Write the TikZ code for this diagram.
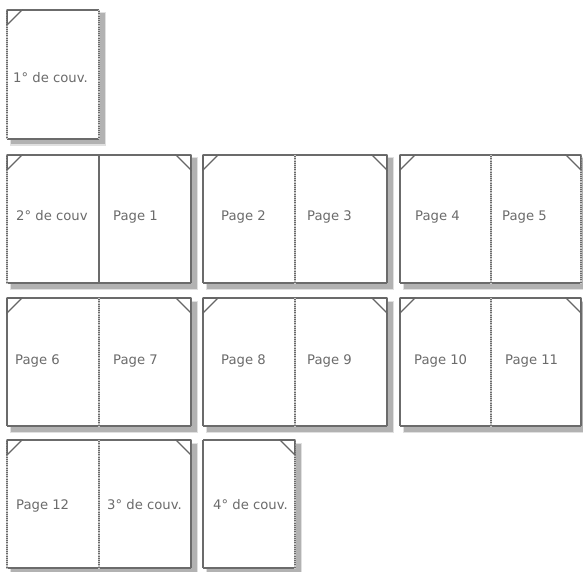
\documentclass[tikz,border=0pt]{standalone}
\usepackage{fontspec}
\newfontfamily\pgfont{DejaVu Sans}
\tikzset{
  edge/.style={draw=black!58, line width=1.2pt},
  dotedge/.style={draw=black!22, line width=1.2pt, densely dotted},
  corner/.style={draw=black!60, line width=1.1pt, fill=white, line join=miter},
  lbl/.style={anchor=base west, inner sep=0pt, font=\pgfont\fontsize{13.2}{14}\selectfont, text=black!58},
}
% sheet background with shadow: x, y, w, h
\newcommand\sheetbg[4]{%
  \fill[black!12] (#1+2.5,#2+2.5) rectangle (#1+#3+7,#2+#4+7);
  \fill[black!30] (#1+3.5,#2+3.5) rectangle (#1+#3+5.5,#2+#4+5.5);
  \fill[white] (#1,#2) rectangle (#1+#3,#2+#4);
}
% horizontal edges: x1, x2, y, h
\newcommand\hedges[4]{%
  \draw[edge] (#1,#3) -- (#2,#3);
  \draw[edge] (#1,#3+#4) -- (#2,#3+#4);
}
% vertical edge: style, x, y, h
\newcommand\vedge[4]{\draw[#1] (#2,#3) -- (#2,#3+#4);}
\newcommand\cornTL[2]{\draw[corner] (#1,#2) -- (#1+15,#2) -- (#1,#2+15) -- cycle;
  \draw[black!60, line width=1.8pt] (#1+0.5,#2+15) -- (#1+0.5,#2+0.5) -- (#1+15,#2+0.5);}
\newcommand\cornTR[2]{\draw[corner] (#1,#2) -- (#1-15,#2) -- (#1,#2+15) -- cycle;
  \draw[black!60, line width=1.8pt] (#1-0.5,#2+15) -- (#1-0.5,#2+0.5) -- (#1-15,#2+0.5);}
\begin{document}
\begin{tikzpicture}[x=1pt,y=-1pt]
\useasboundingbox (0,0) rectangle (583,572);
\fill[white] (0,0) rectangle (583,572);

% ---------- cover 1
\sheetbg{7}{10}{92}{129}
\hedges{7}{99}{10}{129}
\vedge{edge}{7}{10}{129}
\vedge{dotedge}{7}{10}{129}
\vedge{edge}{99}{10}{129}
\vedge{dotedge}{99}{10}{129}
\cornTL{7}{10}
\node[lbl] (c1) at (13,83) {1° de couv.};

% ---------- row 1 (y=155)
\sheetbg{7}{155}{184}{128}
\sheetbg{203}{155}{184}{128}
\sheetbg{400}{155}{181}{128}
% spread A
\hedges{7}{191}{155}{128}
\vedge{edge}{7}{155}{128}\vedge{dotedge}{7}{155}{128}
\vedge{edge}{99}{155}{128}
\vedge{edge}{191}{155}{128}
\cornTL{7}{155}\cornTR{191}{155}
% spread B
\hedges{203}{387}{155}{128}
\vedge{edge}{203}{155}{128}
\vedge{edge}{295}{155}{128}\vedge{dotedge}{295}{155}{128}
\vedge{edge}{387}{155}{128}
\cornTL{203}{155}\cornTR{387}{155}
% spread C
\hedges{400}{581}{155}{128}
\vedge{edge}{400}{155}{128}
\vedge{edge}{491}{155}{128}\vedge{dotedge}{491}{155}{128}
\vedge{edge}{581}{155}{128}\vedge{dotedge}{581}{155}{128}
\cornTL{400}{155}\cornTR{581}{155}
\node[lbl] (c2) at (16,220) {2° de couv};
\node[lbl] (p1) at (113,220) {Page 1};
\node[lbl] (p2) at (221,220) {Page 2};
\node[lbl] (p3) at (307,220) {Page 3};
\node[lbl] (p4) at (415,220) {Page 4};
\node[lbl] (p5) at (502,220) {Page 5};

% ---------- row 2 (y=298)
\sheetbg{7}{298}{184}{128}
\sheetbg{203}{298}{184}{128}
\sheetbg{400}{298}{181}{128}
\hedges{7}{191}{298}{128}
\vedge{edge}{7}{298}{128}
\vedge{edge}{99}{298}{128}\vedge{dotedge}{99}{298}{128}
\vedge{edge}{191}{298}{128}
\cornTL{7}{298}\cornTR{191}{298}
\hedges{203}{387}{298}{128}
\vedge{edge}{203}{298}{128}
\vedge{edge}{295}{298}{128}\vedge{dotedge}{295}{298}{128}
\vedge{edge}{387}{298}{128}
\cornTL{203}{298}\cornTR{387}{298}
\hedges{400}{581}{298}{128}
\vedge{edge}{400}{298}{128}
\vedge{edge}{491}{298}{128}\vedge{dotedge}{491}{298}{128}
\vedge{edge}{581}{298}{128}
\cornTL{400}{298}\cornTR{581}{298}
\node[lbl] (p6) at (15,364) {Page 6};
\node[lbl] (p7) at (113,364) {Page 7};
\node[lbl] (p8) at (221,364) {Page 8};
\node[lbl] (p9) at (307,364) {Page 9};
\node[lbl] (p10) at (414,364) {Page 10};
\node[lbl] (p11) at (505,364) {Page 11};

% ---------- row 3 (y=440)
\sheetbg{7}{440}{184}{128}
\sheetbg{203}{440}{92}{128}
\hedges{7}{191}{440}{128}
\vedge{edge}{7}{440}{128}\vedge{dotedge}{7}{440}{128}
\vedge{edge}{99}{440}{128}\vedge{dotedge}{99}{440}{128}
\vedge{edge}{191}{440}{128}
\cornTL{7}{440}\cornTR{191}{440}
\hedges{203}{295}{440}{128}
\vedge{edge}{203}{440}{128}
\vedge{edge}{295}{440}{128}\vedge{dotedge}{295}{440}{128}
\cornTR{295}{440}
\node[lbl] (p12) at (16,509) {Page 12};
\node[lbl] (c3) at (107,509) {3° de couv.};
\node[lbl] (c4) at (213,509) {4° de couv.};
\end{tikzpicture}
\end{document}
